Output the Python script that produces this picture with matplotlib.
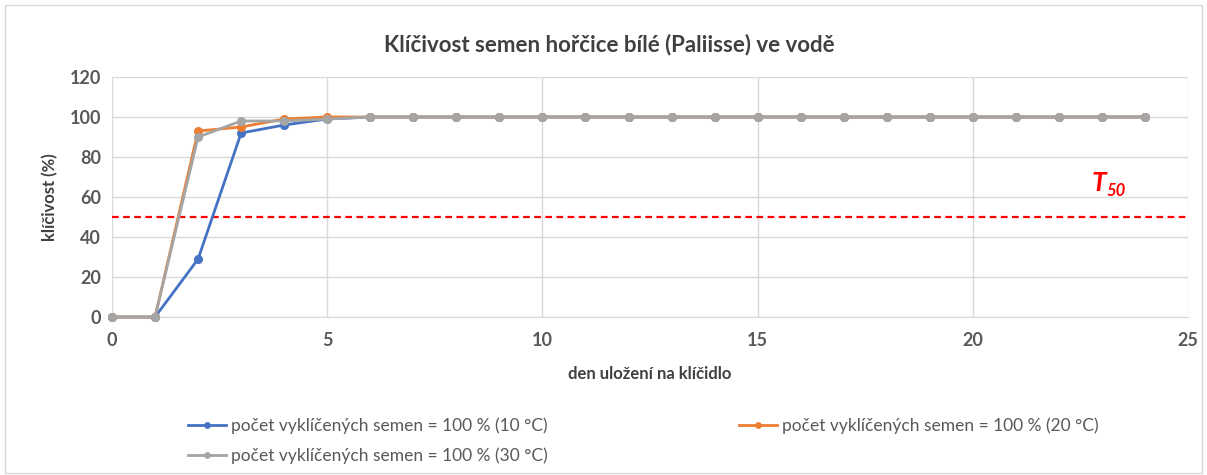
import matplotlib.pyplot as plt
from matplotlib.patches import Rectangle

days = list(range(0, 25))
t10 = [0, 0, 29, 92, 96, 99] + [100] * 19
t20 = [0, 0, 93, 95, 99, 100] + [100] * 19
t30 = [0, 0, 90, 98, 98, 99] + [100] * 19
threshold = 50

labels = ['počet vyklíčených semen = 100 % (10 °C)',
          'počet vyklíčených semen = 100 % (20 °C)',
          'počet vyklíčených semen = 100 % (30 °C)']
colors = ['#4472C4', '#ED7D31', '#A5A5A5']

plt.rcParams['font.family'] = ['Lato', 'DejaVu Sans']

fig = plt.figure(figsize=(12.07, 4.75), dpi=100)
ax = fig.add_axes([0.0928, 0.3326, 0.8915, 0.5053])

lines = []
for vals, c, lab in zip([t10, t20, t30], colors, labels):
    ln, = ax.plot(days, vals, color=c, lw=2, marker='o', markersize=5.5,
                  label=lab, clip_on=False, zorder=3)
    lines.append(ln)

ax.axhline(threshold, color='#FF0000', ls=(0, (3, 2)), lw=1.6)
# T50 label, bold italic with subscript
ax.text(23.1, 67, 'T', color='#FF0000', fontsize=19, fontweight='bold',
        fontstyle='italic', ha='right', va='center')
ax.text(23.1, 63, '50', color='#FF0000', fontsize=12, fontweight='bold',
        fontstyle='italic', ha='left', va='center')

ax.set_xlim(0, 25)
ax.set_ylim(0, 120)
ax.set_xticks(range(0, 26, 5))
ax.set_yticks(range(0, 121, 20))
ax.grid(True, color='#D9D9D9', lw=1)
ax.set_axisbelow(True)
for s in ['top', 'right', 'left']:
    ax.spines[s].set_visible(False)
ax.spines['bottom'].set_color('#D9D9D9')
ax.tick_params(length=0, colors='#595959', labelsize=13, pad=8)
ax.tick_params(axis='x', pad=11)
for t in ax.get_xticklabels() + ax.get_yticklabels():
    t.set_fontweight('bold')

ax.set_xlabel('den uložení na klíčidlo', fontsize=12, fontweight='bold', color='#404040', labelpad=12)
ax.set_ylabel('klíčivost (%)', fontsize=12, fontweight='bold', color='#404040', labelpad=8)
fig.suptitle('Klíčivost semen hořčice bílé (Paliisse) ve vodě', x=0.505, y=0.93,
             fontsize=16, fontweight='bold', color='#404040')

# legend filled row by row: 10 °C, 20 °C / 30 °C
fig.legend(handles=[lines[0], lines[2], lines[1]], loc='center',
           bbox_to_anchor=(0.533, 0.072), ncol=2,
           frameon=False, fontsize=12.5, columnspacing=11, handlelength=2.2,
           markerscale=0.7, labelcolor='#595959', handletextpad=0.3, labelspacing=0.75)

fig.patches.append(Rectangle((0.004, 0.004), 0.992, 0.985, transform=fig.transFigure,
                             fill=False, edgecolor='#D9D9D9', lw=1))

fig.savefig('out.png', dpi=100)
